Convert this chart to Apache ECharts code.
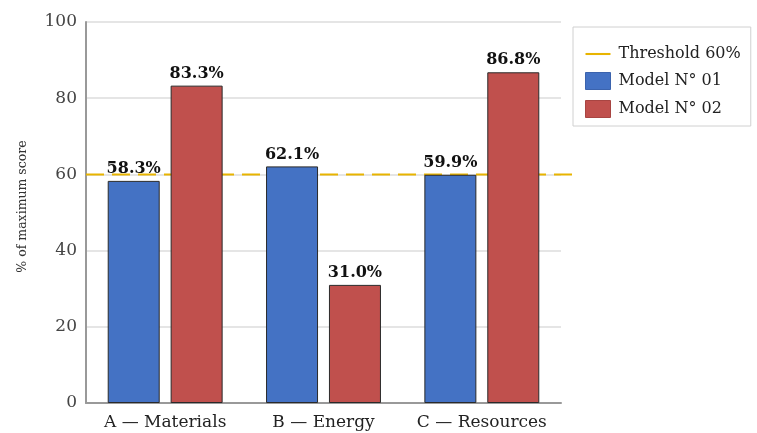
<!DOCTYPE html>
<html>
<head>
<meta charset="utf-8">
<script src="https://cdn.jsdelivr.net/npm/echarts@6/dist/echarts.min.js"></script>
<style>
  html, body { margin: 0; padding: 0; background: #fff; }
  #chart { width: 757px; height: 433px; }
</style>
</head>
<body>
<div id="chart"></div>
<script>
const categories = ['A — Materials', 'B — Energy', 'C — Resources'];
const model01 = [58.3, 62.1, 59.9];
const model02 = [83.3, 31.0, 86.8];
const threshold = 60;
const yTicks = [0, 20, 40, 60, 80, 100];

const SERIF = '"DejaVu Serif", serif';

const chart = echarts.init(document.getElementById('chart'), null, { renderer: 'canvas' });

const valueLabel = {
  show: true,
  position: 'top',
  distance: 4,
  fontFamily: SERIF,
  fontWeight: 'bold',
  fontSize: 16,
  color: '#111',
  formatter: p => p.value.toFixed(1) + '%'
};

chart.setOption({
  animation: false,
  backgroundColor: '#fff',
  legend: {
    orient: 'vertical',
    left: 573,
    top: 27,
    padding: [19, 10, 8, 12],
    itemGap: 10,
    itemWidth: 25,
    itemHeight: 17,
    borderColor: '#d0d0d0',
    borderWidth: 1,
    textStyle: { fontFamily: SERIF, fontSize: 16, color: '#222', padding: [0, 0, 0, 3] },
    data: [
      { name: 'Threshold 60%', icon: 'path://M0,0 H24 V2 H0 Z', itemStyle: { color: '#E8B400', borderWidth: 0 } },
      { name: 'Model N° 01', icon: 'rect', itemStyle: { borderColor: '#3b63ad', borderWidth: 1 } },
      { name: 'Model N° 02', icon: 'rect', itemStyle: { borderColor: '#a84542', borderWidth: 1 } }
    ]
  },
  grid: [
    { left: 86, right: 196, top: 22, bottom: 30, containLabel: false },
    { left: 86, right: 182, top: 22, bottom: 30, containLabel: false }
  ],
  xAxis: [
    {
      type: 'category',
      gridIndex: 0,
      data: categories,
      axisTick: { show: false },
      axisLine: { lineStyle: { color: '#999', width: 2 } },
      axisLabel: { interval: 0, hideOverlap: false, fontFamily: SERIF, fontSize: 17, color: '#222', margin: 11 }
    },
    { type: 'value', gridIndex: 1, min: 0, max: 1, show: false }
  ],
  yAxis: [
    {
      type: 'value',
      gridIndex: 0,
      min: yTicks[0],
      max: yTicks[yTicks.length - 1],
      interval: 20,
      name: '% of maximum score',
      nameLocation: 'middle',
      nameGap: 57,
      nameTextStyle: { fontFamily: SERIF, fontSize: 12.5, color: '#333', padding: [0, 0, 0, 12] },
      axisLine: { show: true, lineStyle: { color: '#999', width: 2 } },
      axisTick: { show: false },
      splitLine: { lineStyle: { color: '#dcdcdc', width: 1.5 } },
      axisLabel: { fontFamily: SERIF, fontSize: 17, color: '#444', margin: 9 }
    },
    { type: 'value', gridIndex: 1, min: 0, max: 100, show: false }
  ],
  series: [
    {
      name: 'Threshold 60%',
      type: 'line',
      xAxisIndex: 1,
      yAxisIndex: 1,
      z: 1,
      symbol: 'none',
      silent: true,
      data: [[0, threshold], [1, threshold]],
      itemStyle: { color: '#E8B400' },
      lineStyle: { color: '#E8B400', width: 2, type: [18, 8] }
    },
    {
      name: 'Model N° 01',
      type: 'bar',
      z: 3,
      barWidth: 52,
      barGap: '21%',
      data: model01,
      itemStyle: { color: '#4472C4', borderColor: '#2a2a2a', borderWidth: 1 },
      label: valueLabel
    },
    {
      name: 'Model N° 02',
      type: 'bar',
      z: 3,
      barWidth: 52,
      data: model02,
      itemStyle: { color: '#C0504D', borderColor: '#2a2a2a', borderWidth: 1 },
      label: valueLabel
    }
  ]
});
</script>
</body>
</html>
